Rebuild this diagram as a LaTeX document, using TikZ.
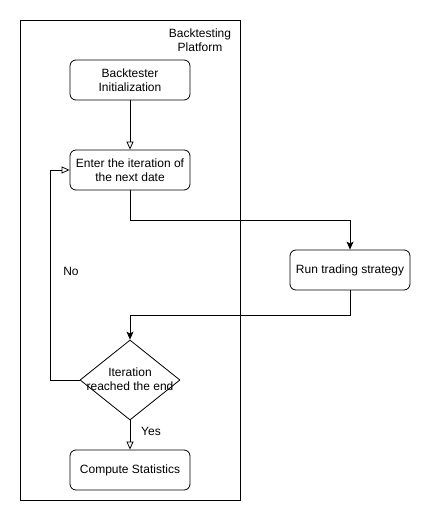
\documentclass[tikz,border=0pt]{standalone}
\usepackage{fontspec}
\setmainfont{Liberation Sans}
\usetikzlibrary{arrows.meta,shapes.geometric}
\begin{document}
\begin{tikzpicture}[x=1pt,y=-1pt,
  every node/.style={font=\fontsize{12}{14}\selectfont},
  procbox/.style={draw,rounded corners=6pt,minimum width=120pt,minimum height=40pt,inner sep=1pt,align=center,line width=0.8pt},
  decbox/.style={draw,diamond,minimum width=100pt,minimum height=80pt,inner sep=0pt,aspect=1.25,align=center,line width=0.8pt},
  openarr/.style={-{Triangle[open,length=8pt,width=7pt]},line width=0.8pt},
  fillarr/.style={-{Stealth[length=8pt,width=7pt,inset=2pt]},line width=0.8pt}]
\useasboundingbox (0,0) rectangle (431,529);
\node[draw,line width=0.8pt,minimum width=220pt,minimum height=480pt,inner sep=0pt] (frame) at (130,260) {};
\node[align=center,inner sep=0pt] (title) at (200,40.5) {Backtesting\\Platform};
\node[procbox] (init) at (130,80) {Backtester\\Initialization};
\node[procbox] (enter) at (130,170) {Enter the iteration of\\the next date};
\node[procbox] (run) at (350,270) {Run trading strategy};
\node[draw,line width=0.8pt,shape=diamond,minimum width=100pt,minimum height=80pt,inner sep=0pt,aspect=1.25] (dec) at (130,380) {};
\node[align=center,inner sep=0pt] (declabel) at (130,379) {Iteration\\reached the end};
\node[procbox] (stats) at (130,470) {Compute Statistics};
\coordinate (c1) at (130,220);
\coordinate (c2) at (350,220);
\coordinate (c3) at (350,315);
\coordinate (c4) at (130,315);
\coordinate (c5) at (50,380);
\coordinate (c6) at (50,170);
\draw[openarr] (init) -- (enter);
\draw[fillarr] (enter.south) -- (c1) -- (c2) -- (run.north);
\draw[fillarr] (run.south) -- (c3) -- (c4) -- (dec.north);
\draw[openarr] (dec.west) -- (c5) -- (c6) -- (enter.west);
\draw[openarr] (dec.south) -- (stats.north);
\node (no) at (71,271) {No};
\node (yes) at (151,431) {Yes};
\end{tikzpicture}
\end{document}
